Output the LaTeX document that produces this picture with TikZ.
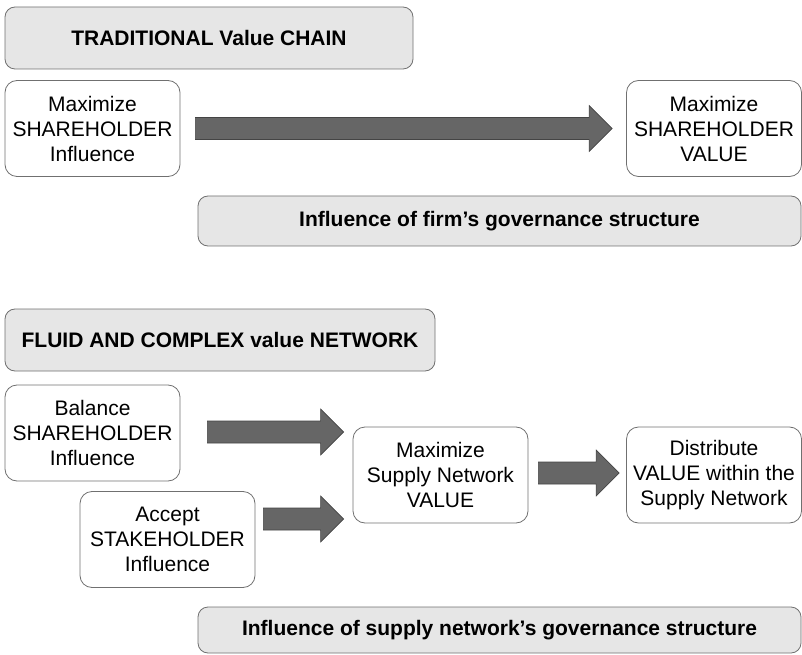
\documentclass[tikz,border=0pt]{standalone}
\usepackage{fontspec}
\setmainfont{Liberation Sans}
\usetikzlibrary{calc}
\definecolor{panelgray}{HTML}{E6E6E6}
\definecolor{edgegray}{HTML}{707070}
\definecolor{arrowgray}{HTML}{666666}
\definecolor{arrowedge}{HTML}{444444}

\begin{document}
\begin{tikzpicture}[x=1pt, y=1pt,
  every node/.style={font=\fontsize{21}{25}\selectfont},
  stepbox/.style={draw=edgegray, line width=0.8pt, rounded corners=12pt, fill=white,
    align=center, inner sep=0pt, minimum width=175pt, minimum height=96pt},
  banner/.style={draw=edgegray, line width=0.8pt, rounded corners=10pt, fill=panelgray,
    inner sep=0pt, font=\fontsize{21}{25}\selectfont\bfseries},
  fatarrow/.style={draw=arrowedge, fill=arrowgray, line width=0.6pt,
    to path={let \p1=(\tikztostart), \p2=(\tikztotarget) in
      (\x1,\y1+11pt) -- (\x2-23pt,\y1+11pt) -- (\x2-23pt,\y1+23pt) -- (\x2,\y1)
      -- (\x2-23pt,\y1-23pt) -- (\x2-23pt,\y1-11pt) -- (\x1,\y1-11pt) -- cycle}}]
\useasboundingbox (0,0) rectangle (802,654);

% traditional chain
\node[banner, minimum width=408pt, minimum height=62pt] (trad) at (209,616) {TRADITIONAL Value CHAIN};
\node[stepbox] (shin) at (92.5,525.5) {Maximize\\SHAREHOLDER\\Influence};
\node[stepbox] (shval) at (714,525.5) {Maximize\\SHAREHOLDER\\VALUE};
\node[banner, minimum width=603pt, minimum height=50pt] (firm) at (499.5,433) {Influence of firm’s governance structure};

% value network
\node[banner, minimum width=430pt, minimum height=62pt] (fluid) at (220,314) {FLUID AND COMPLEX value NETWORK};
\node[stepbox] (bal) at (92.5,221) {Balance\\SHAREHOLDER\\Influence};
\node[stepbox] (acc) at (167.5,114.5) {Accept\\STAKEHOLDER\\Influence};
\node[stepbox] (snval) at (440.5,179) {Maximize\\Supply Network\\VALUE};
\node[stepbox] (dist) at (714,179) {Distribute\\VALUE within the\\Supply Network};
\node[banner, minimum width=603pt, minimum height=46pt] (sngov) at (499.5,24) {Influence of supply network’s governance structure};

\draw[fatarrow] ([xshift=15pt]shin.east) to ([xshift=-14pt]shval.west);
\draw[fatarrow] ([xshift=27pt,yshift=1pt]bal.east) to ([xshift=-9pt]snval.west);
\draw[fatarrow] ([xshift=8pt,yshift=20.5pt]acc.east) to ([xshift=-9pt]snval.west);
\draw[fatarrow] ([xshift=10pt,yshift=2pt]snval.east) to ([xshift=-7pt]dist.west);
\end{tikzpicture}
\end{document}
